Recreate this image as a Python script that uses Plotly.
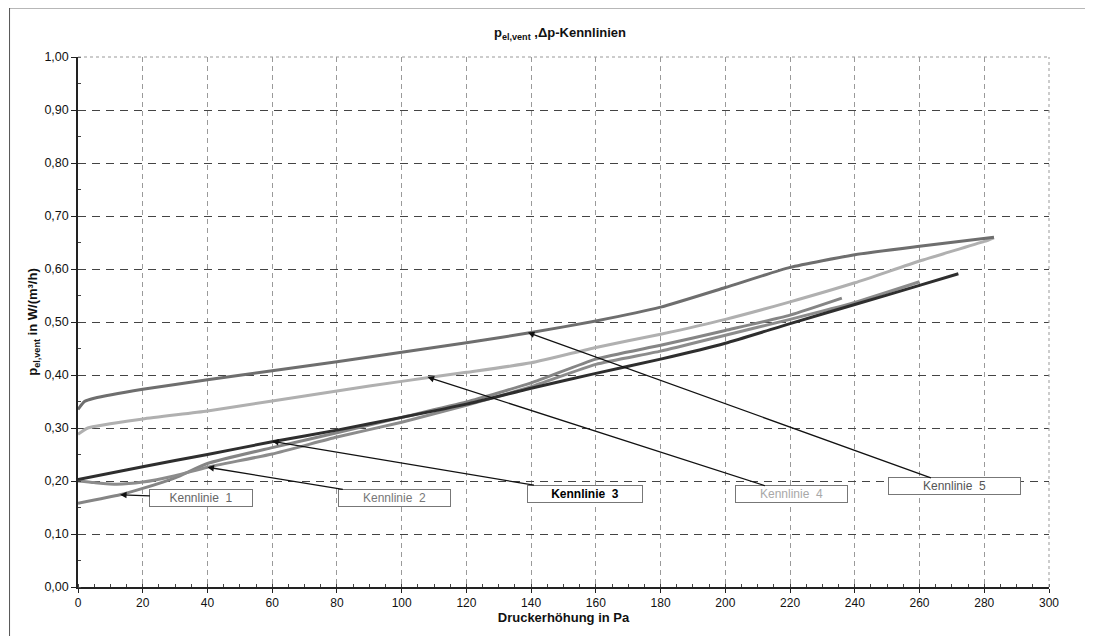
import plotly.graph_objects as go

# ---- data ----
k1_x = [0, 13, 20, 30, 40, 60, 80, 100, 120, 140, 160, 180, 200, 220, 236]
k1_y = [0.158, 0.174, 0.186, 0.206, 0.233, 0.263, 0.291, 0.320, 0.349, 0.385, 0.430, 0.456, 0.484, 0.513, 0.545]

k2_x = [0, 5, 12, 20, 30, 40, 60, 80, 100, 120, 140, 160, 180, 200, 220, 240, 260]
k2_y = [0.200, 0.197, 0.194, 0.198, 0.210, 0.226, 0.251, 0.283, 0.311, 0.343, 0.378, 0.420, 0.445, 0.475, 0.505, 0.537, 0.576]

k3_x = [0, 20, 40, 60, 80, 100, 120, 140, 160, 180, 200, 220, 240, 260, 272]
k3_y = [0.203, 0.227, 0.250, 0.274, 0.296, 0.320, 0.345, 0.375, 0.403, 0.430, 0.460, 0.497, 0.533, 0.569, 0.591]

k4_x = [0, 3, 20, 40, 60, 80, 100, 120, 140, 160, 180, 200, 220, 240, 260, 280, 283]
k4_y = [0.288, 0.300, 0.317, 0.332, 0.351, 0.370, 0.388, 0.405, 0.423, 0.452, 0.477, 0.505, 0.538, 0.574, 0.615, 0.652, 0.659]

k5_x = [0, 2, 5, 20, 40, 60, 80, 100, 120, 140, 160, 180, 200, 220, 240, 260, 283]
k5_y = [0.335, 0.350, 0.356, 0.373, 0.391, 0.408, 0.425, 0.443, 0.461, 0.480, 0.502, 0.528, 0.565, 0.603, 0.627, 0.643, 0.660]

names = ["Kennlinie 1", "Kennlinie 2", "Kennlinie 3", "Kennlinie 4", "Kennlinie 5"]
line_colors = ["#858585", "#8c8c8c", "#2e2e2e", "#b0b0b0", "#6e6e6e"]
text_colors = ["#666666", "#777777", "#000000", "#a8a8a8", "#555555"]

# label boxes: arrow tip (x, y) and box centre (ax, ay)
tip_x = [13, 40, 60, 108, 139]
tip_y = [0.174, 0.226, 0.275, 0.396, 0.480]
box_x = [38.1, 97.8, 156.5, 220.4, 270.8]
box_y = [0.168, 0.168, 0.176, 0.175, 0.190]
box_w = [104, 113, 116, 113, 133]

series = [(k1_x, k1_y), (k2_x, k2_y), (k3_x, k3_y), (k4_x, k4_y), (k5_x, k5_y)]

fig = go.Figure()
for (xs, ys), nm, col in zip(series, names, line_colors):
    fig.add_trace(go.Scatter(x=xs, y=ys, mode="lines", name=nm,
                             line=dict(color=col, width=3, shape="spline", smoothing=0.5),
                             showlegend=False))

for i, nm in enumerate(names):
    txt = nm.replace(" ", "  ")
    if i == 2:
        txt = "<b>" + txt + "</b>"
    fig.add_annotation(x=tip_x[i], y=tip_y[i], ax=box_x[i], ay=box_y[i],
                       xref="x", yref="y", axref="x", ayref="y",
                       text=txt, showarrow=True, arrowhead=2, arrowsize=1.0,
                       arrowwidth=1.3, arrowcolor="#111111",
                       font=dict(family="Liberation Sans, Arial", size=12, color=text_colors[i]),
                       bgcolor="white", bordercolor="#777777", borderwidth=1,
                       width=box_w[i] - 4, height=14, borderpad=1)

fig.update_layout(
    width=1093, height=636,
    margin=dict(l=70, r=52, t=49, b=57),
    paper_bgcolor="white", plot_bgcolor="white",
    separators=",.",
    font=dict(family="Liberation Sans, Arial", size=12, color="#111111"),
    title=dict(text="<b>p<sub>el,vent</sub> ,Δp-Kennlinien</b>", x=0.505, xanchor="center",
               y=0.961, yanchor="middle", font=dict(size=13)),
    xaxis=dict(range=[0, 300], dtick=20, tick0=0, showline=True, linecolor="#222222", linewidth=1.5,
               ticks="outside", ticklen=4, tickcolor="#222222", automargin=False,
               showgrid=True, gridcolor="#9a9a9a", gridwidth=1, griddash="5px,4px",
               minor=dict(dtick=5, ticks="inside", ticklen=3, tickcolor="#444444", showgrid=False),
               zeroline=False, tickfont=dict(size=12),
               title=dict(text="<b>Druckerhöhung in Pa</b>", font=dict(size=13), standoff=4)),
    yaxis=dict(range=[0, 1], dtick=0.1, tick0=0, tickformat=".2f", showline=True,
               linecolor="#222222", linewidth=1.5, automargin=False,
               ticks="outside", ticklen=5, tickcolor="#222222",
               showgrid=True, gridcolor="#444444", gridwidth=1, griddash="8px,6px",
               minor=dict(dtick=0.05, ticks="inside", ticklen=3, tickcolor="#444444", showgrid=False),
               zeroline=False, tickfont=dict(size=12.5),
               title=dict(text="<b>p<sub>el,vent</sub> in W/(m³/h)</b>", font=dict(size=13), standoff=4)),
    shapes=[
        dict(type="line", xref="paper", yref="paper", x0=0, x1=1, y0=1, y1=1,
             line=dict(color="#999999", width=1, dash="dot")),
        dict(type="line", xref="paper", yref="paper", x0=1, x1=1, y0=0, y1=1,
             line=dict(color="#999999", width=1, dash="dot")),
        dict(type="line", xref="paper", yref="paper", x0=-0.0705, x1=1.06, y0=1.0925, y1=1.0925,
             line=dict(color="#666666", width=1)),
        dict(type="line", xref="paper", yref="paper", x0=-0.0705, x1=-0.0705, y0=-0.11, y1=1.0925,
             line=dict(color="#555555", width=1)),
    ],
)

fig.write_html("out.html")
